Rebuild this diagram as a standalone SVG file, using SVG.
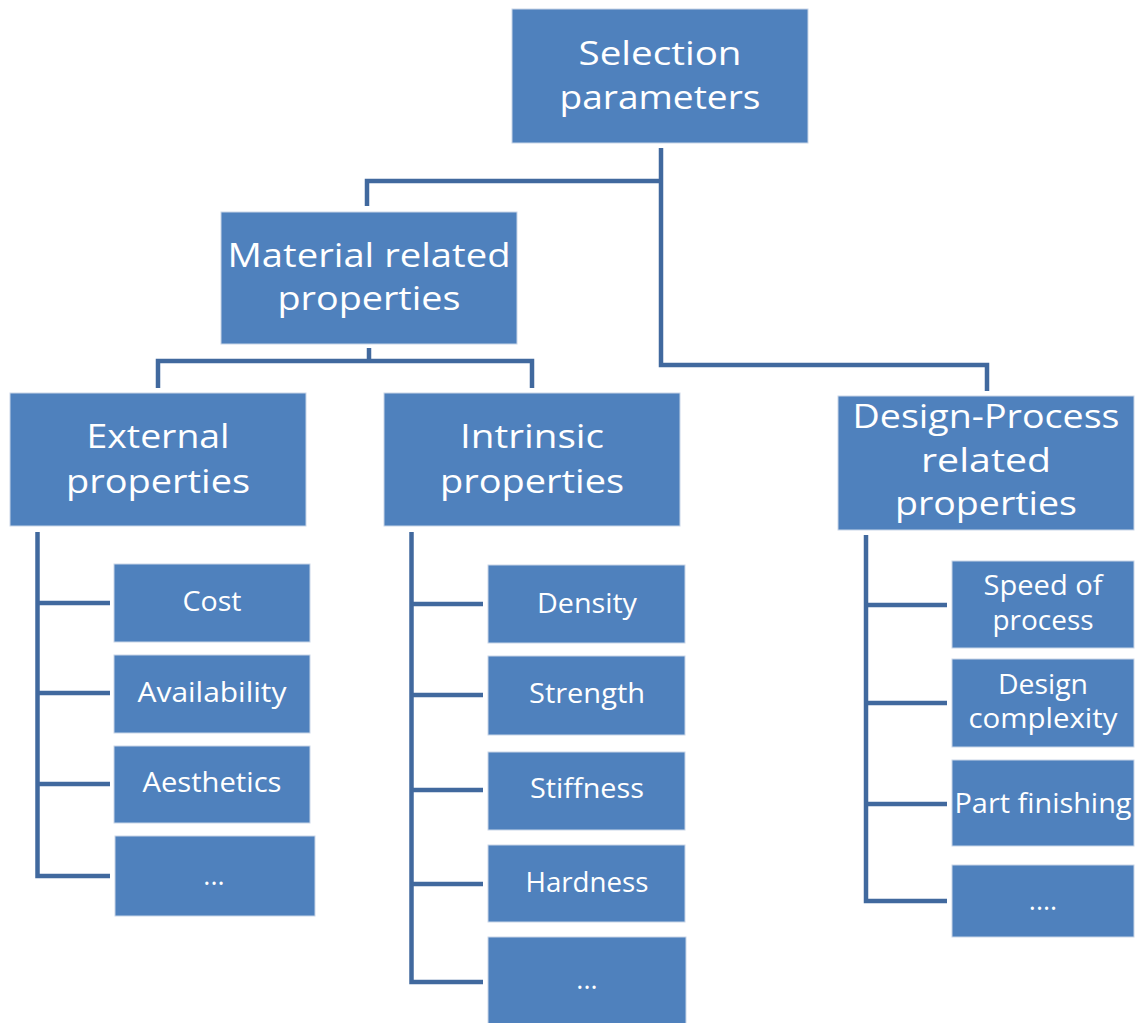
<svg xmlns="http://www.w3.org/2000/svg" width="1142" height="1023" viewBox="0 0 1142 1023">
<style>
.box{fill:#4F81BD;stroke:#C9D6E8;stroke-width:1}
.t{fill:#ffffff;font-family:"Open Sans","Liberation Sans",sans-serif;text-anchor:middle}
.L{font-size:32px}
.S{font-size:27px}
.c{fill:none;stroke:#41699E;stroke-width:4.5;stroke-linejoin:miter;stroke-linecap:butt}
</style>
<rect width="1142" height="1023" fill="#ffffff"/>
<g id="connectors">
<path class="c" d="M661,148 V365 H987 V391"/>
<path class="c" d="M661,181 H367 V206"/>
<path class="c" d="M369,348 V361"/>
<path class="c" d="M158,388 V361 H532 V388"/>
<path class="c" d="M37.5,532 V876 H110"/>
<path class="c" d="M37.5,603 H110 M37.5,693 H110 M37.5,784 H110"/>
<path class="c" d="M411.5,532 V982 H483"/>
<path class="c" d="M411.5,604 H483 M411.5,695 H483 M411.5,790 H483 M411.5,884 H483"/>
<path class="c" d="M866,535 V901 H947"/>
<path class="c" d="M866,605 H947 M866,703 H947 M866,804 H947"/>
</g>
<g id="selection-parameters">
<rect class="box" x="512" y="9" width="296" height="134"/>
<text class="t L" x="660" y="65" textLength="163" lengthAdjust="spacingAndGlyphs">Selection</text>
<text class="t L" x="660" y="109" textLength="201" lengthAdjust="spacingAndGlyphs">parameters</text>
</g>
<g id="material-related">
<rect class="box" x="221" y="212" width="296" height="132"/>
<text class="t L" x="369" y="267" textLength="283" lengthAdjust="spacingAndGlyphs">Material related</text>
<text class="t L" x="369" y="310" textLength="183" lengthAdjust="spacingAndGlyphs">properties</text>
</g>
<g id="external">
<rect class="box" x="10" y="393" width="296" height="133"/>
<text class="t L" x="158" y="448" textLength="143" lengthAdjust="spacingAndGlyphs">External</text>
<text class="t L" x="158" y="493" textLength="184" lengthAdjust="spacingAndGlyphs">properties</text>
</g>
<g id="intrinsic">
<rect class="box" x="384" y="393" width="296" height="133"/>
<text class="t L" x="532" y="448" textLength="144" lengthAdjust="spacingAndGlyphs">Intrinsic</text>
<text class="t L" x="532" y="493" textLength="184" lengthAdjust="spacingAndGlyphs">properties</text>
</g>
<g id="design-process">
<rect class="box" x="838" y="396" width="296" height="134"/>
<text class="t L" x="986" y="428" textLength="267" lengthAdjust="spacingAndGlyphs">Design-Process</text>
<text class="t L" x="986" y="472" textLength="130" lengthAdjust="spacingAndGlyphs">related</text>
<text class="t L" x="986" y="515" textLength="182" lengthAdjust="spacingAndGlyphs">properties</text>
</g>
<g id="cost">
<rect class="box" x="114" y="564" width="196" height="78"/>
<text class="t S" x="212" y="611" textLength="59" lengthAdjust="spacingAndGlyphs">Cost</text>
</g>
<g id="availability">
<rect class="box" x="114" y="655" width="196" height="78"/>
<text class="t S" x="212" y="702" textLength="149" lengthAdjust="spacingAndGlyphs">Availability</text>
</g>
<g id="aesthetics">
<rect class="box" x="114" y="746" width="196" height="77"/>
<text class="t S" x="212" y="792" textLength="139" lengthAdjust="spacingAndGlyphs">Aesthetics</text>
</g>
<g id="external-more">
<rect class="box" x="115" y="836" width="200" height="80"/>
<text class="t S" x="214" y="885">...</text>
</g>
<g id="density">
<rect class="box" x="488" y="565" width="197" height="78"/>
<text class="t S" x="587" y="613" textLength="100" lengthAdjust="spacingAndGlyphs">Density</text>
</g>
<g id="strength">
<rect class="box" x="488" y="656" width="197" height="79"/>
<text class="t S" x="587" y="703" textLength="116" lengthAdjust="spacingAndGlyphs">Strength</text>
</g>
<g id="stiffness">
<rect class="box" x="488" y="752" width="197" height="78"/>
<text class="t S" x="587" y="798" textLength="114" lengthAdjust="spacingAndGlyphs">Stiffness</text>
</g>
<g id="hardness">
<rect class="box" x="488" y="845" width="197" height="77"/>
<text class="t S" x="587" y="892" textLength="123" lengthAdjust="spacingAndGlyphs">Hardness</text>
</g>
<g id="intrinsic-more">
<rect class="box" x="488" y="937" width="198" height="90"/>
<text class="t S" x="587" y="989">...</text>
</g>
<g id="speed">
<rect class="box" x="952" y="561" width="182" height="87"/>
<text class="t S" x="1043" y="595" textLength="119" lengthAdjust="spacingAndGlyphs">Speed of</text>
<text class="t S" x="1043" y="630" textLength="101" lengthAdjust="spacingAndGlyphs">process</text>
</g>
<g id="design-complexity">
<rect class="box" x="952" y="659" width="182" height="88"/>
<text class="t S" x="1043" y="694" textLength="90" lengthAdjust="spacingAndGlyphs">Design</text>
<text class="t S" x="1043" y="728" textLength="149" lengthAdjust="spacingAndGlyphs">complexity</text>
</g>
<g id="part-finishing">
<rect class="box" x="952" y="760" width="182" height="86"/>
<text class="t S" x="1043" y="813" textLength="177" lengthAdjust="spacingAndGlyphs">Part finishing</text>
</g>
<g id="design-more">
<rect class="box" x="952" y="865" width="182" height="72"/>
<text class="t S" x="1043" y="910">....</text>
</g>
</svg>
